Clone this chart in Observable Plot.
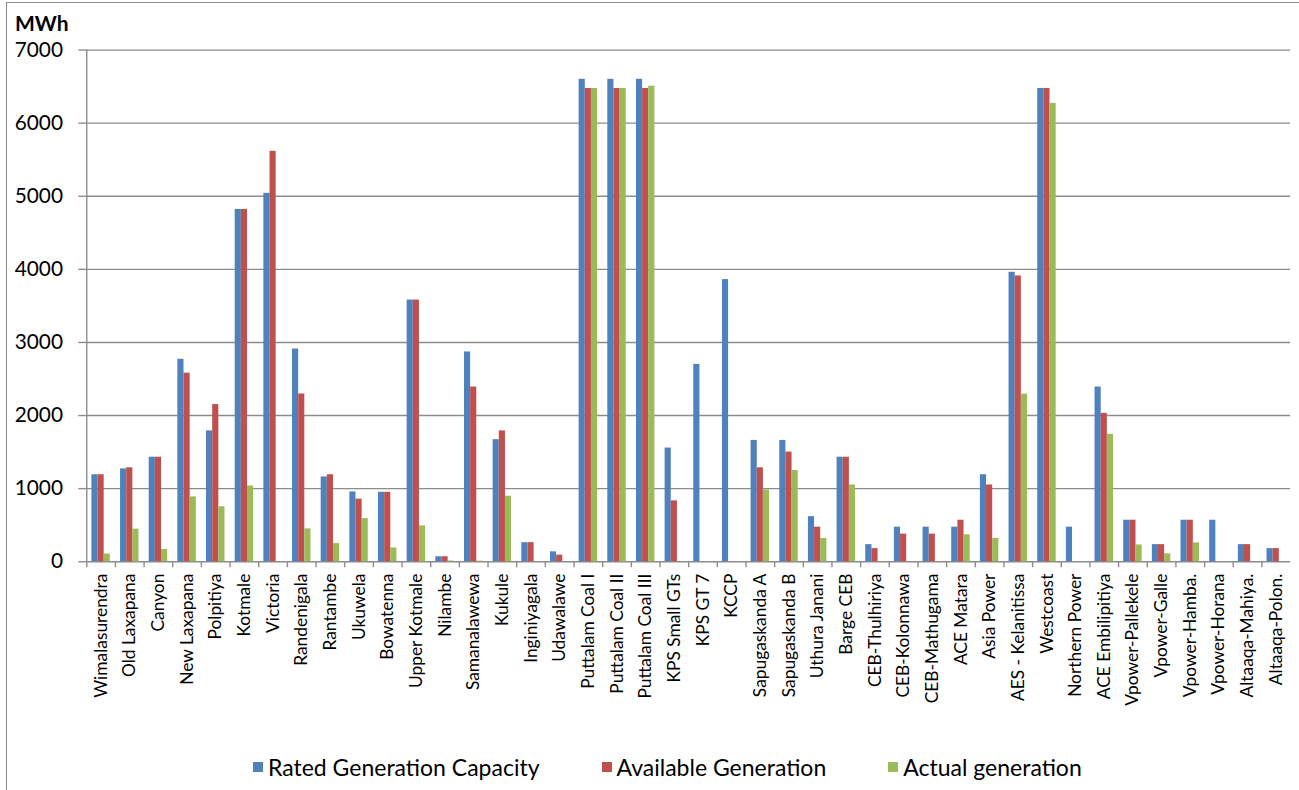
<!DOCTYPE html>
<html>
<head>
<meta charset="utf-8">
<script src="https://cdn.jsdelivr.net/npm/d3@7"></script>
<script src="https://cdn.jsdelivr.net/npm/@observablehq/plot@0.6"></script>
<style>
  html, body { margin: 0; padding: 0; background: #fff; overflow: hidden; }
  body { width: 1299px; height: 790px; position: relative; font-family: Lato, "Open Sans", sans-serif; }
  #frame { position: absolute; left: 6px; top: 2px; width: 1400px; height: 900px;
           border-left: 1.5px solid #8e8e8e; border-top: 1.5px solid #8e8e8e; pointer-events: none; }
  #chart { position: absolute; left: 0; top: 0; }
  #unit { position: absolute; left: 15px; top: 10px; font: bold 21px Lato, sans-serif; color: #000; }
  #legend { position: absolute; left: 253px; top: 753px; display: flex; align-items: center; gap: 62px;
            font-size: 23px; color: #000; }
  #legend .item { display: flex; align-items: center; }
  #legend .sw { width: 10px; height: 10px; margin-right: 5px; }
</style>
</head>
<body>
<div id="frame"></div>
<div id="unit">MWh</div>
<div id="chart"></div>
<div id="legend"></div>
<script>
// Power stations, in the order they are plotted
const stations = [
  "Wimalasurendra", "Old Laxapana", "Canyon", "New Laxapana", "Polpitiya", "Kotmale",
  "Victoria", "Randenigala", "Rantambe", "Ukuwela", "Bowatenna", "Upper Kotmale",
  "Nilambe", "Samanalawewa", "Kukule", "Inginiyagala", "Udawalawe", "Puttalam Coal I",
  "Puttalam Coal II", "Puttalam Coal III", "KPS Small GTs", "KPS GT 7", "KCCP",
  "Sapugaskanda A", "Sapugaskanda B", "Uthura Janani", "Barge CEB", "CEB-Thulhiriya",
  "CEB-Kolonnawa", "CEB-Mathugama", "ACE Matara", "Asia Power", "AES - Kelanitissa",
  "Westcoast", "Northern Power", "ACE Embilipitiya", "Vpower-Pallekele", "Vpower-Galle",
  "Vpower-Hamba.", "Vpower-Horana", "Altaaqa-Mahiya.", "Altaaqa-Polon."
];

// Energy per station, MWh
const rated = [
  1190, 1270, 1430, 2770, 1790, 4820, 5040, 2910, 1160, 955, 950, 3580,
  68, 2870, 1670, 261, 135, 6600, 6600, 6600, 1555, 2700, 3860,
  1660, 1660, 617, 1430, 234, 473, 473, 473, 1190, 3960,
  6475, 473, 2390, 568, 234, 568, 568, 234, 180
];
const available = [
  1190, 1285, 1430, 2580, 2150, 4820, 5615, 2295, 1190, 856, 950, 3580,
  68, 2390, 1790, 261, 90, 6475, 6475, 6475, 833, 0, 0,
  1285, 1500, 473, 1430, 180, 378, 378, 568, 1050, 3910,
  6475, 0, 2030, 568, 234, 568, 0, 234, 180
];
const actual = [
  105, 446, 167, 887, 752, 1036, 0, 450, 248, 590, 189, 491,
  10, 8, 896, 0, 0, 6475, 6475, 6506, 0, 0, 0,
  982, 1248, 320, 1050, 0, 0, 0, 369, 320, 2293,
  6271, 0, 1743, 230, 108, 257, 0, 0, 0
];

const seriesNames = ["Rated Generation Capacity", "Available Generation", "Actual generation"];
const seriesColors = ["#4f81bd", "#c0504d", "#9bbb59"];
const yTicks = [0, 1000, 2000, 3000, 4000, 5000, 6000, 7000];

const table = [rated, available, actual].flatMap((vals, s) =>
  stations.map((name, i) => ({station: name, series: seriesNames[s], value: vals[i]}))
);

const W = 1310, H = 745;
const mL = 87, mR = 9, mT = 50, mB = 179;
const bw = (W - mL - mR) / stations.length;   // band width per station
const barW = 6.2;                              // width of one bar
const inset = (bw - barW) / 2;
const offsets = [-barW, 0, barW];

const grey = "#8c8c8c";

const barMarks = seriesNames.map((name, s) =>
  Plot.barY(table.filter(d => d.series === name), {
    x: "station", y: "value", fill: seriesColors[s],
    insetLeft: inset, insetRight: inset, dx: offsets[s]
  })
);

const chart = Plot.plot({
  width: W, height: H,
  marginLeft: mL, marginRight: mR, marginTop: mT, marginBottom: mB,
  style: {fontFamily: "Lato, sans-serif", color: "#000", background: "transparent"},
  x: {domain: stations, padding: 0, axis: null, label: null},
  y: {domain: [0, 7000], axis: null, label: null},
  marks: [
    Plot.gridY(yTicks, {stroke: grey, strokeOpacity: 1, strokeWidth: 1.4}),
    ...barMarks,
    // vertical value axis line at the left edge of the first band
    Plot.ruleX([stations[0]], {x: d => d, dx: -bw / 2, y1: 0, y2: 7000, stroke: grey, strokeWidth: 1.4}),
    Plot.axisY(yTicks, {tickSize: 8, tickPadding: 16, fontSize: 21, stroke: grey, strokeWidth: 1.4,
      label: null, tickFormat: d => String(d)}),
    // category separators below the baseline
    Plot.axisX(stations, {tickSize: 6, dx: -bw / 2, tickFormat: () => "", label: null,
      stroke: grey, strokeWidth: 1.4}),
    Plot.axisX(stations, {tickSize: 0, tickPadding: 12, tickRotate: -90, fontSize: 17.5, label: null})
  ]
});
document.getElementById("chart").appendChild(chart);

const legend = d3.select("#legend");
seriesNames.forEach((name, s) => {
  const item = legend.append("div").attr("class", "item");
  item.append("div").attr("class", "sw").style("background", seriesColors[s]);
  item.append("span").text(name);
});
</script>
</body>
</html>
